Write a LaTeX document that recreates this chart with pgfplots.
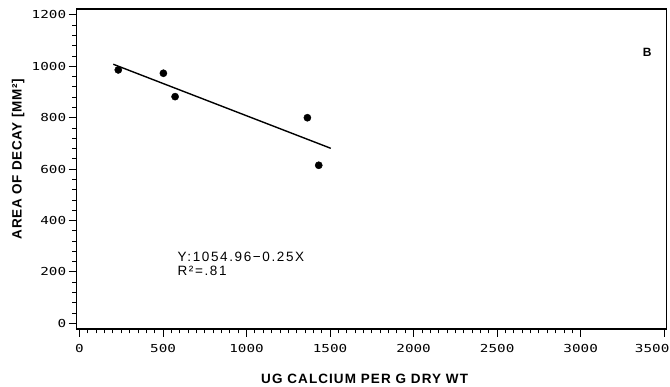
\documentclass[border=0pt]{standalone}
\usepackage{fontspec}
\usepackage{pgfplots}
\pgfplotsset{compat=1.18}
\setmainfont{Liberation Sans}
\newfontfamily\tickfont[FakeStretch=1.3]{DejaVu Sans Mono}
\newfontfamily\xlabfont[LetterSpace=8]{Liberation Sans}
\newfontfamily\ylabfont[LetterSpace=5]{Liberation Sans}
\newfontfamily\annfont[LetterSpace=12]{Liberation Sans}
\begin{document}
\begin{tikzpicture}
\begin{axis}[
  scale only axis, width=590pt, height=320pt,
  xmin=-17, xmax=3515, ymin=-22, ymax=1223,
  xtick={0,500,...,3000}, ytick={0,200,...,1200},
  extra x ticks={3500},
  extra x tick style={xticklabel style={xshift=-12pt}},
  minor x tick num=9, minor y tick num=4,
  tick align=outside, tick pos=left,
  major tick length=8pt, minor tick length=4.5pt,
  axis line style={line width=1.3pt},
  every tick/.style={black, line width=0.9pt},
  /pgf/number format/assume math mode=true,
  /pgf/number format/1000 sep={},
  ticklabel style={font=\fontsize{11}{11}\tickfont},
  xticklabel style={yshift=-4pt},
  yticklabel style={xshift=1pt},
  xlabel={UG CALCIUM PER G DRY WT},
  ylabel={AREA OF DECAY [MM²]},
  xlabel style={font=\fontsize{13.5}{13.5}\xlabfont\bfseries, at={(axis description cs:0.488,-0.156)}, anchor=center},
  ylabel style={font=\fontsize{13.5}{13.5}\ylabfont\bfseries, at={(axis description cs:-0.0993,0.531)}, anchor=center},
  clip=false,
]
\addplot[only marks, mark=*, mark size=3.6pt, black] coordinates {
  (232,986) (502,973) (572,882) (1364,800) (1432,615)
};
\addplot[line width=1.4pt, black] coordinates {(202,1008) (1504,681)};
\node[anchor=base west, font=\fontsize{13.5}{13.5}\annfont] at (axis cs:566,242) {Y:1054.96−0.25X};
\node[anchor=base west, font=\fontsize{13.5}{13.5}\annfont] at (axis cs:566,186) {R²=.81};
\node[font=\fontsize{12}{12}\selectfont\bfseries] at (axis cs:3398,1054) {B};
\end{axis}
\pgfresetboundingbox
\useasboundingbox ([shift={(-76.7pt,-58pt)}]current axis.south west) rectangle ([shift={(3.3pt,9pt)}]current axis.north east);
\end{tikzpicture}
\end{document}
